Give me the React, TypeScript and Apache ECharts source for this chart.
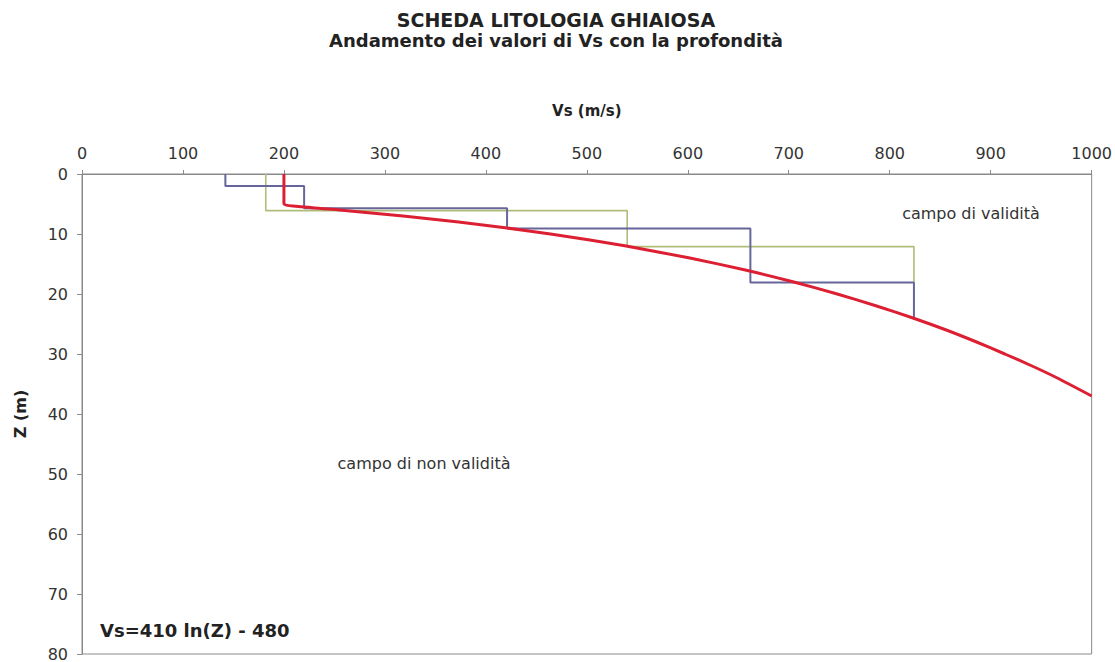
import React, { useEffect, useRef } from "react";
import * as echarts from "echarts";

const titleText = "SCHEDA LITOLOGIA GHIAIOSA";
const subtitleText = "Andamento dei valori di Vs con la profondità";
const xName = "Vs (m/s)";
const yName = "Z (m)";
const formulaText = "Vs=410 ln(Z) - 480";
const validText = "campo di validità";
const invalidText = "campo di non validità";

// Red curve (law Vs vs depth)
const redVs = [200, 200, 218, 255, 318, 373, 421, 464, 503, 539, 602, 657, 705, 748, 787, 823, 856, 886, 914, 941, 966, 1000];
const redZ = [0, 4.9, 5.45, 6, 7, 8, 9, 10, 11, 12, 14, 16, 18, 20, 22, 24, 26, 28, 30, 32, 34, 37];

// Blue step profile
const blueVs = [142, 142, 220, 220, 421, 421, 662, 662, 824, 824];
const blueZ = [0, 2, 2, 5.7, 5.7, 9.1, 9.1, 18.1, 18.1, 24];

// Green step profile
const greenVs = [182, 182, 540, 540, 824, 824];
const greenZ = [0, 6.1, 6.1, 12.1, 12.1, 18.1];

const pairs = (xs: number[], ys: number[]) => xs.map((x, i) => [x, ys[i]]);

const FONT = "DejaVu Sans";

export default function App() {
  const ref = useRef<HTMLDivElement>(null);
  useEffect(() => {
    if (!ref.current) return;
    const chart = echarts.init(ref.current, null, { renderer: "svg" });
    chart.setOption({
      animation: false,
      backgroundColor: "#ffffff",
      textStyle: { fontFamily: FONT },
      grid: {
        left: 82,
        right: 23,
        top: 174,
        bottom: 8,
        show: true,
        borderColor: "#8a8a8a",
        borderWidth: 1,
        backgroundColor: "transparent",
      },
      xAxis: {
        type: "value",
        position: "top",
        min: 0,
        max: 1000,
        interval: 100,
        name: xName,
        nameLocation: "middle",
        nameGap: 56,
        nameTextStyle: { fontFamily: FONT, fontWeight: "bold", fontSize: 15, color: "#222" },
        axisLine: { show: true, lineStyle: { color: "#8a8a8a", width: 1 } },
        axisTick: { show: true, inside: false, length: 4, lineStyle: { color: "#8a8a8a" } },
        axisLabel: {
          fontFamily: FONT,
          fontSize: 16,
          color: "#333",
          margin: 13,
          formatter: (v: number) => String(v),
        },
        splitLine: { show: false },
      },
      yAxis: {
        type: "value",
        inverse: true,
        min: 0,
        max: 80,
        interval: 10,
        name: yName,
        nameLocation: "middle",
        nameRotate: 90,
        nameGap: 54,
        nameTextStyle: { fontFamily: FONT, fontWeight: "bold", fontSize: 16, color: "#222" },
        axisLine: { show: true, lineStyle: { color: "#8a8a8a", width: 1 } },
        axisTick: { show: true, inside: false, length: 5, lineStyle: { color: "#8a8a8a" } },
        axisLabel: { fontFamily: FONT, fontSize: 16, color: "#333", margin: 14 },
        splitLine: { show: false },
      },
      series: [
        {
          type: "line",
          data: pairs(greenVs, greenZ),
          showSymbol: false,
          symbol: "none",
          lineStyle: { color: "#aebd7a", width: 1.6 },
          z: 2,
        },
        {
          type: "line",
          data: pairs(blueVs, blueZ),
          showSymbol: false,
          symbol: "none",
          lineStyle: { color: "#66669a", width: 2 },
          z: 3,
        },
        {
          type: "line",
          data: pairs(redVs, redZ),
          showSymbol: false,
          symbol: "none",
          smooth: 0.2,
          lineStyle: { color: "#dc1f32", width: 3 },
          z: 4,
        },
      ],
      graphic: [
        {
          type: "text",
          x: 556,
          y: 20,
          style: {
            text: titleText,
            fontFamily: FONT,
            fontWeight: "bold",
            fontSize: 19,
            fill: "#222",
            align: "center",
            verticalAlign: "middle",
          },
        },
        {
          type: "text",
          x: 556,
          y: 40,
          style: {
            text: subtitleText,
            fontFamily: FONT,
            fontWeight: "bold",
            fontSize: 18,
            fill: "#222",
            align: "center",
            verticalAlign: "middle",
          },
        },
        {
          type: "text",
          x: 971,
          y: 213,
          style: {
            text: validText,
            fontFamily: FONT,
            fontSize: 16,
            fill: "#333",
            align: "center",
            verticalAlign: "middle",
          },
        },
        {
          type: "text",
          x: 424,
          y: 463,
          style: {
            text: invalidText,
            fontFamily: FONT,
            fontSize: 16,
            fill: "#333",
            align: "center",
            verticalAlign: "middle",
          },
        },
        {
          type: "text",
          x: 100,
          y: 630,
          style: {
            text: formulaText,
            fontFamily: FONT,
            fontWeight: "bold",
            fontSize: 18,
            fill: "#222",
            align: "left",
            verticalAlign: "middle",
          },
        },
      ],
    });
    return () => chart.dispose();
  }, []);
  return (
    <div
      ref={ref}
      style={{ position: "fixed", left: 0, top: 0, width: 1115, height: 662, background: "#fff" }}
    />
  );
}
